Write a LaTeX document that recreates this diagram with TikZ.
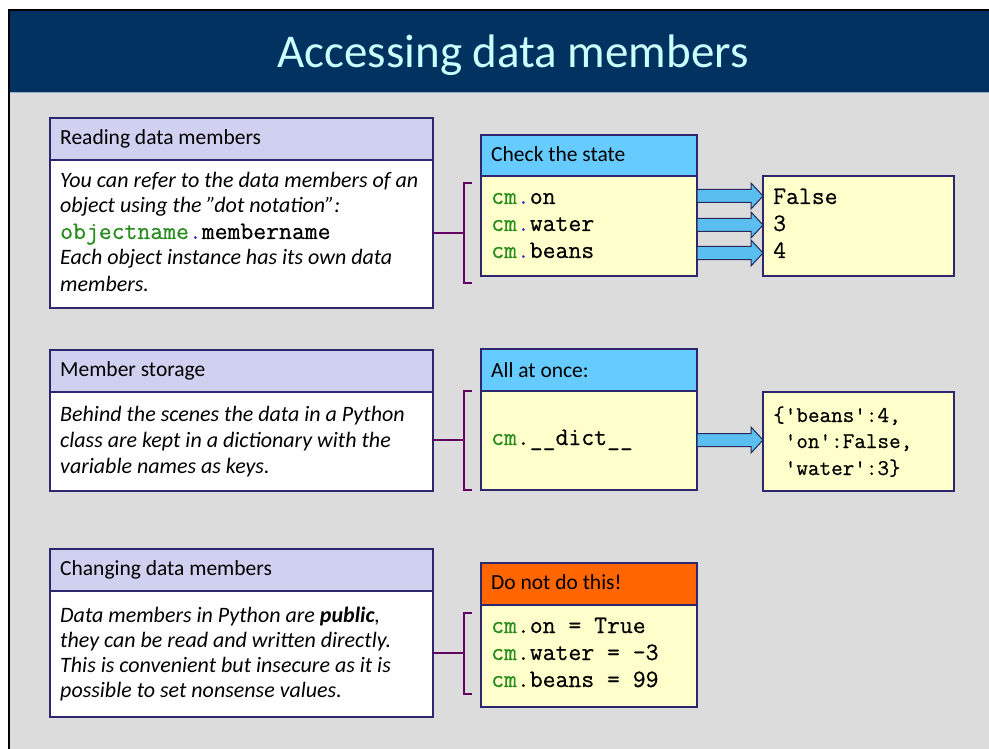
\documentclass[tikz,border=0pt]{standalone}
\usepackage{fontspec}
\setmainfont{Carlito}
\newfontfamily\codefont{Latin Modern Mono}[FakeBold=0.6]
\definecolor{titlebg}{RGB}{2,50,96}
\definecolor{titlefg}{RGB}{204,255,255}
\definecolor{pagebg}{RGB}{220,220,220}
\definecolor{hdrc}{RGB}{208,208,240}
\definecolor{bordc}{RGB}{45,40,110}
\definecolor{bluehdr}{RGB}{102,204,255}
\definecolor{codebg}{RGB}{255,255,204}
\definecolor{orangehdr}{RGB}{255,102,0}
\definecolor{codegreen}{RGB}{40,140,30}
\definecolor{dotblue}{RGB}{50,50,200}
\definecolor{brkc}{RGB}{100,0,100}
\definecolor{arrc}{RGB}{90,190,240}
\definecolor{arrb}{RGB}{40,40,90}
\newcommand\cmdot{\textcolor{codegreen}{cm}\textcolor{dotblue}{.}}
\newcommand\cmplain{\textcolor{codegreen}{cm}.}
\tikzset{
  box/.style={draw=bordc, line width=1.2pt, anchor=north west, inner sep=0pt, outer sep=0pt},
  hdrtxt/.style={anchor=base west, inner sep=0pt, font=\fontsize{21.5}{26}\selectfont},
  bodytxt/.style={anchor=base west, inner sep=0pt, font=\fontsize{22}{26}\selectfont\itshape},
  codetxt/.style={anchor=base west, inner sep=0pt, font=\fontsize{25}{27}\codefont},
  dicttxt/.style={anchor=base west, inner sep=0pt, font=\fontsize{22.5}{26}\codefont},
  brk/.style={draw=brkc, line width=2.5pt},
  barrow/.style={fill=arrc, draw=arrb, line width=1pt, line join=miter},
}
\begin{document}
\begin{tikzpicture}[x=1pt,y=-1pt]
\useasboundingbox (0,0) rectangle (989,749);
\clip (0,0) rectangle (989,749);
% page
\fill[white] (0,0) rectangle (989,749);
\fill[black] (8,9) rectangle (995,755);
\fill[pagebg] (10,92) rectangle (995,755);
\fill[titlebg] (10,11) rectangle (995,92);
\draw[color={rgb,255:red,150;green,175;blue,200}, line width=1pt] (10,92.5) -- (995,92.5);
\node[text=titlefg, font=\fontsize{47}{56}\selectfont, anchor=base] (title) at (513,68) {Accessing data members};

% ---------- row 1 ----------
\node[box, fill=hdrc, minimum width=383, minimum height=42] (h1) at (50,118) {};
\node[box, fill=white, minimum width=383, minimum height=148] (b1) at (50,160) {};
\node[hdrtxt] (h1t) at (60,145) {Reading data members};
\node[bodytxt] (b1l1) at (60,188) {You can refer to the data members of an};
\node[bodytxt] (b1l2) at (60,213) {object using the \symbol{34}dot notation\symbol{34}:};
\node[codetxt] (b1l3) at (60,239) {\textcolor{codegreen}{objectname}\textcolor{dotblue}{.}membername};
\node[bodytxt] (b1l4) at (60,265) {Each object instance has its own data};
\node[bodytxt] (b1l5) at (60,291) {members.};

\node[box, fill=bluehdr, minimum width=216, minimum height=41] (h2) at (481,135) {};
\node[box, fill=codebg, minimum width=216, minimum height=100] (b2) at (481,176) {};
\node[hdrtxt] (h2t) at (491,162) {Check the state};
\node[codetxt] (c1) at (491,204) {\cmdot on};
\node[codetxt] (c2) at (491,231) {\cmdot water};
\node[codetxt] (c3) at (491,258) {\cmdot beans};

\node[box, fill=codebg, minimum width=191, minimum height=100] (v1) at (763,176) {};
\node[codetxt] (v1a) at (773,204) {False};
\node[codetxt] (v1b) at (773,231) {3};
\node[codetxt] (v1c) at (773,258) {4};

\coordinate (k1) at (464,233);
\draw[brk] (472,183) -- (464,183) -- (464,283) -- (472,283);
\draw[brk] (b1.east |- k1) -- (k1);

\foreach \c in {196,225,253}{
  \draw[barrow] (697,\c-6.5) -- (751,\c-6.5) -- (751,\c-13) -- (763,\c) -- (751,\c+13) -- (751,\c+6.5) -- (697,\c+6.5) -- cycle;
}

% ---------- row 2 ----------
\node[box, fill=hdrc, minimum width=383, minimum height=42] (h3) at (50,350) {};
\node[box, fill=white, minimum width=383, minimum height=99] (b3) at (50,392) {};
\node[hdrtxt] (h3t) at (60,376) {Member storage};
\node[bodytxt] (b3l1) at (60,421) {Behind the scenes the data in a Python};
\node[bodytxt] (b3l2) at (60,447) {class are kept in a dictionary with the};
\node[bodytxt] (b3l3) at (60,473) {variable names as keys.};

\node[box, fill=bluehdr, minimum width=216, minimum height=42] (h4) at (481,349) {};
\node[box, fill=codebg, minimum width=216, minimum height=99] (b4) at (481,391) {};
\node[hdrtxt] (h4t) at (491,377) {All at once:};
\node[codetxt] (d1) at (491,445) {\cmplain\_\_dict\_\_};

\node[box, fill=codebg, minimum width=191, minimum height=99] (v2) at (763,392) {};
\node[dicttxt] (v2a) at (773,422) {\{'beans':4,};
\node[dicttxt] (v2b) at (773,448) {\ 'on':False,};
\node[dicttxt] (v2c) at (773,475) {\ 'water':3\}};

\coordinate (k2) at (464,440);
\draw[brk] (472,391) -- (464,391) -- (464,490) -- (472,490);
\draw[brk] (b3.east |- k2) -- (k2);

\draw[barrow] (697,433.5) -- (751,433.5) -- (751,427) -- (763,440) -- (751,453) -- (751,446.5) -- (697,446.5) -- cycle;

% ---------- row 3 ----------
\node[box, fill=hdrc, minimum width=383, minimum height=42] (h5) at (50,549) {};
\node[box, fill=white, minimum width=383, minimum height=126] (b5) at (50,591) {};
\node[hdrtxt] (h5t) at (60,575) {Changing data members};
\node[bodytxt] (b5l1) at (60,622) {Data members in Python are \textbf{public},};
\node[bodytxt] (b5l2) at (60,647) {they can be read and written directly.};
\node[bodytxt] (b5l3) at (60,672) {This is convenient but insecure as it is};
\node[bodytxt] (b5l4) at (60,697) {possible to set nonsense values.};

\node[box, fill=orangehdr, minimum width=216, minimum height=42] (h6) at (481,563) {};
\node[box, fill=codebg, minimum width=216, minimum height=102] (b6) at (481,605) {};
\node[hdrtxt] (h6t) at (491,589) {Do not do this!};
\node[codetxt] (e1) at (491,633) {\cmplain on = True};
\node[codetxt] (e2) at (491,660) {\cmplain water = -3};
\node[codetxt] (e3) at (491,687) {\cmplain beans = 99};

\coordinate (k3) at (464,653);
\draw[brk] (472,613) -- (464,613) -- (464,694) -- (472,694);
\draw[brk] (b5.east |- k3) -- (k3);
\end{tikzpicture}
\end{document}
